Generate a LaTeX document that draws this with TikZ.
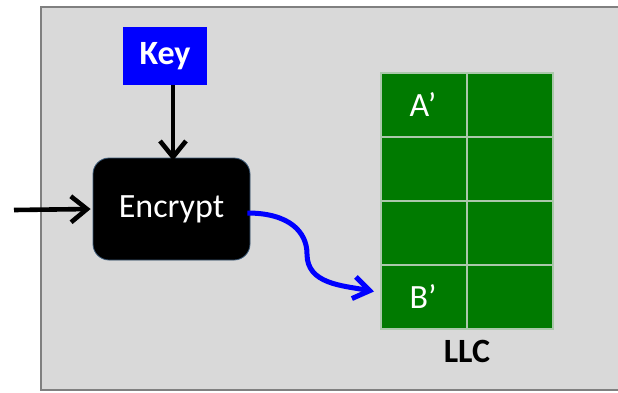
\documentclass[tikz,border=0pt]{standalone}
\usepackage{fontspec}
\setmainfont{Carlito}
\usetikzlibrary{arrows.meta}
\definecolor{panelgrey}{RGB}{217,217,217}
\definecolor{panelline}{RGB}{128,128,128}
\definecolor{cellgreen}{RGB}{0,122,0}
\definecolor{cellline}{RGB}{170,200,170}
\definecolor{keyblue}{RGB}{0,0,255}
\definecolor{encedge}{RGB}{60,90,120}
\tikzset{
  lbl/.style={font=\fontsize{34}{36}\selectfont},
  blbl/.style={font=\fontsize{34}{36}\selectfont\bfseries},
  keybox/.style={fill=keyblue, text=white, minimum width=84pt, minimum height=58pt, inner sep=0pt, blbl},
  encbox/.style={fill=black, draw=encedge, line width=0.8pt, rounded corners=16pt, text=white, minimum width=157pt, minimum height=102pt, inner sep=0pt, lbl},
  cell/.style={fill=cellgreen, draw=cellline, line width=2pt, minimum width=86pt, minimum height=64pt, inner sep=0pt, text=white, lbl},
  flow/.style={line width=4.6pt, -{Straight Barb[length=16pt,width=26pt,line width=4.6pt]}},
  bflow/.style={line width=5pt, keyblue, -{Straight Barb[length=16pt,width=22pt,line width=5pt]}},
}
\begin{document}
\begin{tikzpicture}[x=1pt,y=-1pt]
  \useasboundingbox (0,0) rectangle (618,392);
  \clip (0,0) rectangle (618,392);
  % panel
  \draw[fill=panelgrey, draw=panelline, line width=1.4pt] (41,7) rectangle (640,390);

  % key and encryption unit
  \node[keybox] (key) at (165,56) {Key};
  \node[encbox] (enc) at (171.5,209) {Encrypt};
  \coordinate (src) at (14,210);

  % cache grid
  \foreach \r/\y in {1/105,2/169,3/233,4/296.5}{
    \node[cell] (c\r1) at (424,\y) {};
    \node[cell] (c\r2) at (509.5,\y) {};
  }
  \node[lbl, text=white] at ([xshift=-1pt]c11.center) {A’};
  \node[lbl, text=white] at ([xshift=-1pt]c41.center) {B’};
  \node[blbl, anchor=north] (llc) at (467,337) {LLC};

  % connectors
  \draw[flow] ([xshift=8pt]key.south) -- ([xshift=8pt,yshift=-3pt]key.south |- enc.north);
  \draw[flow] (src) -- ([xshift=-2pt]enc.west);
  \draw[bflow] ([xshift=-3pt,yshift=-4pt]enc.east)
    .. controls +(42,0) and +(0,-22) .. (307,254)
    .. controls +(0,30) and +(-32,-6) .. ([xshift=-6pt,yshift=5pt]c41.west);
\end{tikzpicture}
\end{document}
